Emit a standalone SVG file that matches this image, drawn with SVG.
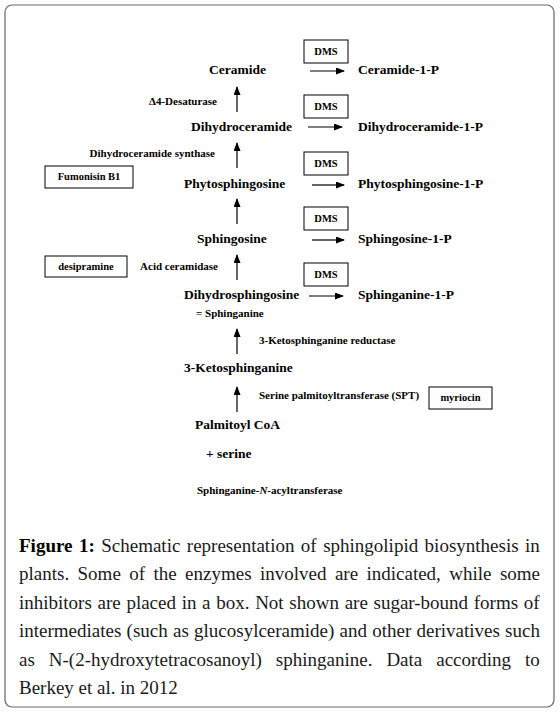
<svg xmlns="http://www.w3.org/2000/svg" width="560" height="713" viewBox="0 0 560 713">
<defs>
<style>
.lbl{font-family:"Liberation Serif","Times New Roman",serif;font-weight:bold;font-size:13.5px;fill:#000}
.enz{font-family:"Liberation Serif","Times New Roman",serif;font-weight:bold;font-size:11px;fill:#000}
.box{fill:#fff;stroke:#000;stroke-width:1}
.bt{font-family:"Liberation Serif","Times New Roman",serif;font-weight:bold;font-size:10.5px;fill:#000;text-anchor:middle}
.arr{stroke:#000;stroke-width:1.2;fill:none;marker-end:url(#ah)}
.cap{font-family:"Liberation Serif","Times New Roman",serif;font-size:19px;fill:#1a1a1a}
</style>
<marker id="ah" markerUnits="userSpaceOnUse" markerWidth="9" markerHeight="7" refX="8" refY="3.5" orient="auto">
<path d="M0,0 L9,3.5 L0,7 z" fill="#000"/>
</marker>
</defs>
<rect x="5" y="5" width="549" height="702" rx="7" fill="#fff" stroke="#666" stroke-width="1.2"/>

<g id="connectors">
<line class="arr" x1="310" y1="71" x2="344" y2="71"/>
<line class="arr" x1="308" y1="127" x2="342" y2="127"/>
<line class="arr" x1="312" y1="185" x2="344" y2="185"/>
<line class="arr" x1="312" y1="240" x2="344" y2="240"/>
<line class="arr" x1="309" y1="296" x2="343" y2="296"/>
<line class="arr" x1="237" y1="112" x2="237" y2="87"/>
<line class="arr" x1="237" y1="168" x2="237" y2="143"/>
<line class="arr" x1="237" y1="224" x2="237" y2="199"/>
<line class="arr" x1="237" y1="280" x2="237" y2="255"/>
<line class="arr" x1="237" y1="354" x2="237" y2="329"/>
<line class="arr" x1="237" y1="412" x2="237" y2="387"/>
</g>

<g id="ceramide"><text class="lbl" x="209" y="74">Ceramide</text></g>
<g id="ceramide1p"><text class="lbl" x="358" y="74">Ceramide-1-P</text></g>
<g id="dms1"><rect class="box" x="304" y="40" width="44" height="23"/><text class="bt" x="326" y="55">DMS</text></g>
<g id="desaturase"><text class="enz" x="217" y="105" text-anchor="end">Δ4-Desaturase</text></g>

<g id="dihydroceramide"><text class="lbl" x="191" y="131">Dihydroceramide</text></g>
<g id="dihydroceramide1p"><text class="lbl" x="358" y="131">Dihydroceramide-1-P</text></g>
<g id="dms2"><rect class="box" x="304" y="95" width="44" height="23"/><text class="bt" x="326" y="110">DMS</text></g>
<g id="dhcsynthase"><text class="enz" x="215" y="157" text-anchor="end">Dihydroceramide synthase</text></g>
<g id="fumonisin"><rect class="box" x="45" y="166" width="88" height="22"/><text class="bt" x="89" y="180">Fumonisin B1</text></g>

<g id="phytosphingosine"><text class="lbl" x="184" y="188">Phytosphingosine</text></g>
<g id="phytosphingosine1p"><text class="lbl" x="358" y="188">Phytosphingosine-1-P</text></g>
<g id="dms3"><rect class="box" x="304" y="152" width="44" height="23"/><text class="bt" x="326" y="167">DMS</text></g>

<g id="sphingosine"><text class="lbl" x="197" y="243">Sphingosine</text></g>
<g id="sphingosine1p"><text class="lbl" x="358" y="243">Sphingosine-1-P</text></g>
<g id="dms4"><rect class="box" x="304" y="207" width="44" height="23"/><text class="bt" x="326" y="222">DMS</text></g>
<g id="desipramine"><rect class="box" x="45" y="256" width="82" height="21"/><text class="bt" x="86" y="270">desipramine</text></g>
<g id="acidceramidase"><text class="enz" x="218" y="270" text-anchor="end">Acid ceramidase</text></g>

<g id="dihydrosphingosine"><text class="lbl" x="184" y="299">Dihydrosphingosine</text><text class="enz" x="196" y="317">= Sphinganine</text></g>
<g id="sphinganine1p"><text class="lbl" x="358" y="299">Sphinganine-1-P</text></g>
<g id="dms5"><rect class="box" x="304" y="263" width="44" height="23"/><text class="bt" x="326" y="278">DMS</text></g>

<g id="ksreductase"><text class="enz" x="259" y="344">3-Ketosphinganine reductase</text></g>
<g id="ketosphinganine"><text class="lbl" x="184" y="372">3-Ketosphinganine</text></g>
<g id="spt"><text class="enz" x="259" y="399">Serine palmitoyltransferase (SPT)</text></g>
<g id="myriocin"><rect class="box" x="429" y="387" width="63" height="22"/><text class="bt" x="460.5" y="401">myriocin</text></g>

<g id="palmitoylcoa"><text class="lbl" x="195" y="429">Palmitoyl CoA</text><text class="lbl" x="206" y="458">+ serine</text></g>
<g id="snacyl"><text class="enz" x="197" y="494">Sphinganine-<tspan font-style="italic">N</tspan>-acyltransferase</text></g>

<g id="caption">
<text class="cap" x="19" y="552" word-spacing="1.7"><tspan font-weight="bold" fill="#000">Figure 1:</tspan> Schematic representation of sphingolipid biosynthesis in</text>
<text class="cap" x="19" y="580.4" word-spacing="3.66">plants. Some of the enzymes involved are indicated, while some</text>
<text class="cap" x="19" y="608.8" word-spacing="0.93">inhibitors are placed in a box. Not shown are sugar-bound forms of</text>
<text class="cap" x="19" y="637.2" word-spacing="0.48">intermediates (such as glucosylceramide) and other derivatives such</text>
<text class="cap" x="19" y="665.6" word-spacing="9.2">as N-(2-hydroxytetracosanoyl) sphinganine. Data according to</text>
<text class="cap" x="19" y="694">Berkey et al. in 2012</text>
</g>
</svg>
